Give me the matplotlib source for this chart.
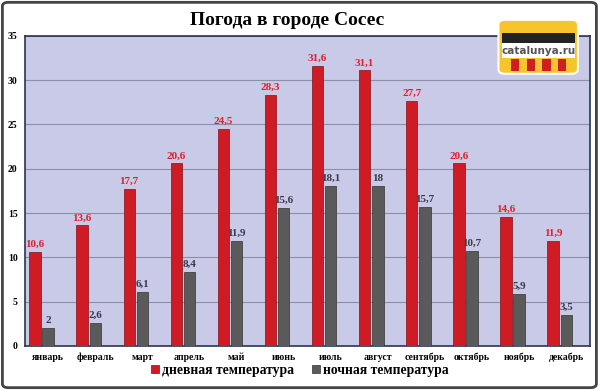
import matplotlib
matplotlib.use("Agg")
import matplotlib.pyplot as plt
import numpy as np
from matplotlib.patches import FancyBboxPatch, Rectangle

months = ["январь", "февраль", "март", "апрель", "май", "июнь", "июль",
          "август", "сентябрь", "октябрь", "ноябрь", "декабрь"]
day_temp = [10.6, 13.6, 17.7, 20.6, 24.5, 28.3, 31.6, 31.1, 27.7, 20.6, 14.6, 11.9]
night_temp = [2, 2.6, 6.1, 8.4, 11.9, 15.6, 18.1, 18, 15.7, 10.7, 5.9, 3.5]
day_label = "дневная температура"
night_label = "ночная температура"
title = "Погода в городе Сосес"

plt.rcParams['font.family'] = ['Liberation Serif', 'DejaVu Serif']

fig = plt.figure(figsize=(6.0, 3.9), dpi=100)
fig.patch.set_facecolor("white")
fig.patches.append(FancyBboxPatch((0.004, 0.006), 0.99, 0.988, boxstyle="round,pad=0,rounding_size=0.01",
                                  transform=fig.transFigure, fill=False, edgecolor="#444444", linewidth=2.0))

ax = fig.add_axes([0.041, 0.113, 0.942, 0.795])
ax.set_facecolor("#c9c9e8")
x = np.arange(len(months))
w = 0.24
off = 0.28
ax.bar(x - off, day_temp, width=w, color="#cf1b23", edgecolor="#8a0f14", linewidth=0.5, zorder=3, label=day_label)
ax.bar(x, night_temp, width=w, color="#5a5a5a", edgecolor="#333333", linewidth=0.5, zorder=3, label=night_label)

for xi, v in zip(x, day_temp):
    ax.text(xi - off, v + 0.35, f"{v:g}".replace(".", ","), ha="center", va="bottom",
            color="#e0202a", fontsize=8, fontweight="bold", zorder=4)
for xi, v in zip(x, night_temp):
    ax.text(xi, v + 0.35, f"{v:g}".replace(".", ","), ha="center", va="bottom",
            color="#3a3a4a", fontsize=8, fontweight="bold", zorder=4)

ax.set_xlim(-0.5, len(months) - 0.5)
ax.set_ylim(0, 35)
ax.set_yticks(range(0, 36, 5))
ax.yaxis.grid(True, color="#8e8ea6", linewidth=0.8, zorder=0)
ax.set_xticks(x)
ax.set_xticklabels(months, fontsize=7, fontweight="bold")
ax.tick_params(axis="y", labelsize=7, length=0, pad=5)
ax.tick_params(axis="x", length=0, pad=5)
for lbl in ax.get_yticklabels():
    lbl.set_fontweight("bold")
for s in ax.spines.values():
    s.set_color("#2a3550")
    s.set_linewidth(1.2)

fig.text(0.478, 0.948, title, ha="center", va="center", fontsize=14, fontweight="bold")

leg = fig.legend(loc="lower center", bbox_to_anchor=(0.5, 0.003), ncol=2, frameon=False,
                 prop={"weight": "bold", "size": 9.8}, handlelength=0.55, handleheight=0.55,
                 handletextpad=0.25, columnspacing=1.3)

# logo
lax = fig.add_axes([0.828, 0.808, 0.138, 0.144])
lax.set_xlim(0, 1)
lax.set_ylim(0, 1)
lax.axis("off")
lax.add_patch(FancyBboxPatch((0.02, 0.02), 0.96, 0.96, boxstyle="round,pad=0,rounding_size=0.08",
                             facecolor="#f7c52b", edgecolor="white", linewidth=1.5))
lax.add_patch(Rectangle((0.06, 0.56), 0.88, 0.18, facecolor="#222222"))
lax.add_patch(Rectangle((0.06, 0.30), 0.88, 0.26, facecolor="white"))
lax.text(0.5, 0.43, "catalunya.ru", ha="center", va="center", fontsize=7.5, fontweight="bold",
         color="#555555", family="DejaVu Sans")
for sx in [0.22, 0.41, 0.60, 0.79]:
    lax.add_patch(Rectangle((sx - 0.05, 0.07), 0.1, 0.22, facecolor="#d01c24"))

fig.savefig("out.png", dpi=100)
